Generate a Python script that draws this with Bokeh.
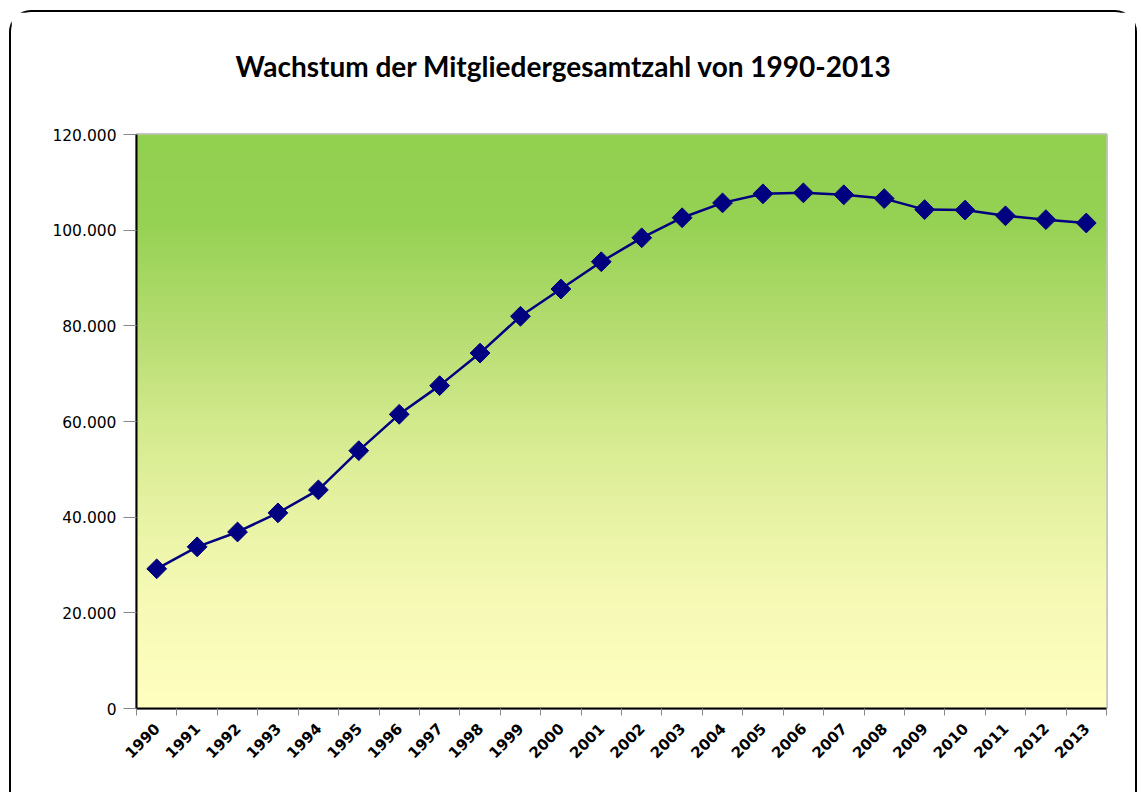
import numpy as np
from math import pi
from bokeh.plotting import figure
from bokeh.models import Range1d, FixedTicker, Title
from bokeh.embed import file_html
from bokeh.resources import INLINE

# ---- data ----
years = [str(y) for y in range(1990, 2014)]
members = [29200, 33800, 36900, 40900, 45700, 53900, 61500, 67500, 74300, 82000,
           87700, 93400, 98400, 102600, 105700, 107600, 107800, 107400, 106600,
           104300, 104200, 103000, 102200, 101500]
y_ticks = [0, 20000, 40000, 60000, 80000, 100000, 120000]
y_tick_labels = ["0", "20.000", "40.000", "60.000", "80.000", "100.000", "120.000"]
title_text = "Wachstum der Mitgliedergesamtzahl von 1990-2013"

n = len(years)
xc = [i + 0.5 for i in range(n)]

p = figure(width=1124, height=780, output_backend="svg", toolbar_location=None,
           title=None,
           x_range=Range1d(0, n), y_range=Range1d(0, 120000),
           min_border_left=125, min_border_right=33, min_border_top=122, min_border_bottom=86)
p.styles = {"border": "2px solid black", "border-bottom": "none",
            "border-radius": "22px 22px 0 0", "box-sizing": "content-box",
            "margin-left": "9px", "margin-top": "10px"}
p.background_fill_color = "white"
p.border_fill_color = "white"
p.outline_line_color = "#c4c4c4"
p.outline_line_width = 3

# spacer next to the plot area (white on white), then the title above it
p.add_layout(Title(text=".", text_font_size="20px", standoff=31, text_color="white"), "above")
p.add_layout(Title(text=title_text, align="left", offset=99, text_font="Lato",
                   text_font_style="bold", text_font_size="28px", text_color="black",
                   standoff=10), "above")

# gradient background (decoration)
stops = [(0.0, (146, 208, 80)), (0.15, (149, 209, 83)), (0.35, (183, 221, 114)),
         (0.5, (210, 233, 140)), (0.65, (230, 242, 162)), (0.8, (245, 249, 180)),
         (1.0, (255, 255, 192))]
N = 256
img = np.empty((N, 1), dtype=np.uint32)
view = img.view(dtype=np.uint8).reshape((N, 1, 4))
for r in range(N):
    t = 1.0 - r / (N - 1)  # row 0 is the bottom
    for k in range(len(stops) - 1):
        t0, c0 = stops[k]
        t1, c1 = stops[k + 1]
        if t0 <= t <= t1:
            f = (t - t0) / (t1 - t0)
            c = [int(round(c0[j] + (c1[j] - c0[j]) * f)) for j in range(3)]
            break
    view[r, 0, 0], view[r, 0, 1], view[r, 0, 2], view[r, 0, 3] = c[0], c[1], c[2], 255
p.image_rgba(image=[img], x=0, y=0, dw=n, dh=120000)

# axes
yt = FixedTicker(ticks=y_ticks)
p.yaxis.ticker = yt
p.yaxis.major_label_overrides = {t: l for t, l in zip(y_ticks, y_tick_labels)}
p.yaxis.axis_line_color = "black"
p.yaxis.axis_line_width = 2
p.yaxis.major_tick_in = 0
p.yaxis.major_tick_out = 13
p.yaxis.major_tick_line_color = "#888888"
p.yaxis.minor_tick_line_color = None
p.yaxis.major_label_text_font = "DejaVu Sans"
p.yaxis.major_label_text_font_size = "15.5px"
p.yaxis.major_label_text_color = "black"
p.yaxis.major_label_standoff = 7

p.xaxis.ticker = FixedTicker(ticks=xc, minor_ticks=list(range(n + 1)))
p.xaxis.major_label_overrides = {x: y for x, y in zip(xc, years)}
p.xaxis.axis_line_color = "black"
p.xaxis.axis_line_width = 2
p.xaxis.major_tick_in = 0
p.xaxis.major_tick_out = 0
p.xaxis.minor_tick_in = 0
p.xaxis.minor_tick_out = 7
p.xaxis.minor_tick_line_color = "#888888"
p.xaxis.major_label_orientation = pi / 4
p.xaxis.major_label_text_font = "DejaVu Sans"
p.xaxis.major_label_text_font_size = "15px"
p.xaxis.major_label_text_font_style = "bold"
p.xaxis.major_label_text_color = "black"
p.xaxis.major_label_standoff = 10

p.xgrid.grid_line_color = None
p.ygrid.ticker = yt
p.ygrid.grid_line_color = "#7a7a6a"
p.ygrid.grid_line_alpha = 0.8
p.ygrid.grid_line_width = 1

# series
p.line(xc, members, line_color="#000080", line_width=2.5)
p.scatter(xc, members, marker="square", size=14, angle=pi / 4,
          fill_color="#000080", line_color="#000080")

open("out.html", "w").write(file_html(p, INLINE))
